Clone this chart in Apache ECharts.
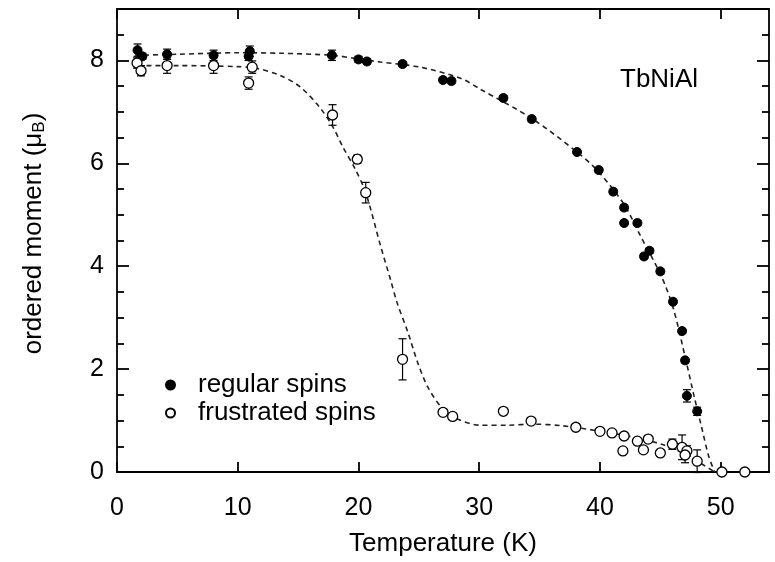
<!DOCTYPE html>
<html>
<head>
<meta charset="utf-8">
<script src="https://cdn.jsdelivr.net/npm/echarts@6/dist/echarts.min.js"></script>
<style>html,body{margin:0;padding:0;background:#fff}#c{width:775px;height:562px}</style>
</head>
<body>
<div id="c"></div>
<script>
// ---- data ----
const xTicks = [0, 10, 20, 30, 40, 50];
const yTicks = [0, 2, 4, 6, 8];
const yMinorTicks = [0.5, 1, 1.5, 2.5, 3, 3.5, 4.5, 5, 5.5, 6.5, 7, 7.5, 8.5];

const regT   = [1.7, 2.1, 4.15, 8.0, 11.0, 10.9, 17.8, 20.0, 20.7, 23.65, 27.0, 27.7, 32.0, 34.35, 38.1, 39.9, 41.1, 42.0, 42.0, 43.1, 43.65, 44.1, 45.0, 46.05, 46.8, 47.05, 47.2, 48.05];
const regM   = [8.2, 8.08, 8.12, 8.1, 8.18, 8.08, 8.1, 8.02, 7.98, 7.93, 7.62, 7.6, 7.27, 6.86, 6.22, 5.87, 5.45, 5.14, 4.84, 4.84, 4.19, 4.3, 3.9, 3.31, 2.74, 2.17, 1.48, 1.18];
const regErr = [0.12, 0.06, 0.1, 0.1, 0.1, 0.08, 0.1, 0.06, 0.05, 0.05, 0.05, 0.05, 0.05, 0.05, 0.05, 0.05, 0.05, 0.05, 0.05, 0.05, 0.05, 0.05, 0.05, 0.05, 0.05, 0.05, 0.12, 0.08];

const frT   = [1.66, 1.99, 4.15, 8.0, 11.2, 10.9, 17.85, 19.9, 20.6, 23.65, 27.0, 27.8, 32.0, 34.3, 38.0, 40.0, 41.0, 42.0, 41.9, 43.1, 44.0, 43.6, 45.0, 46.0, 46.8, 47.2, 47.05, 48.05, 50.1, 52.0];
const frM   = [7.95, 7.8, 7.9, 7.9, 7.87, 7.56, 6.94, 6.08, 5.43, 2.19, 1.16, 1.08, 1.18, 0.99, 0.87, 0.79, 0.76, 0.70, 0.41, 0.60, 0.64, 0.43, 0.37, 0.54, 0.48, 0.41, 0.33, 0.21, 0, 0];
const frErr = [0.1, 0.1, 0.15, 0.15, 0.12, 0.12, 0.2, 0.08, 0.2, 0.4, 0.06, 0.06, 0.06, 0.06, 0.06, 0.05, 0.05, 0.05, 0.05, 0.05, 0.05, 0.05, 0.05, 0.1, 0.24, 0.1, 0.15, 0.22, 0, 0];

const regFitT = [1.5, 5, 10, 13.6, 17.8, 20, 21.8, 25.1, 28.5, 30.1, 34.3, 38.1, 39.9, 42.0, 43.4, 45.1, 46.1, 47.1, 47.8, 48.4, 49.0, 49.5];
const regFitM = [8.1, 8.12, 8.15, 8.14, 8.1, 8.03, 7.97, 7.87, 7.65, 7.44, 6.88, 6.22, 5.83, 5.2, 4.57, 3.8, 3.16, 2.19, 1.47, 0.89, 0.31, 0.0];

const frFitT = [1.7, 5, 10, 11.5, 13.5, 15.2, 16.85, 17.9, 18.7, 19.7, 20.6, 21.8, 22.65, 23.2, 24.1, 24.9, 25.7, 26.8, 28.2, 30.1, 32.4, 34.5, 36.8, 40.1, 42.3, 45.1, 46.7, 48.4, 49.5];
const frFitM = [7.9, 7.9, 7.88, 7.85, 7.71, 7.48, 7.07, 6.7, 6.32, 5.9, 5.43, 4.42, 3.74, 3.29, 2.71, 2.13, 1.67, 1.28, 1.03, 0.91, 0.91, 0.93, 0.9, 0.79, 0.70, 0.54, 0.39, 0.16, 0.0];

const names = ['regular spins', 'frustrated spins'];
const annotation = 'TbNiAl';

// ---- build ----
const FONT = 'Liberation Sans, Arial, Helvetica, sans-serif';
const zip = (a, b) => a.map((v, i) => [v, b[i]]);
const zip3 = (a, b, c) => a.map((v, i) => [v, b[i], c[i]]);

function errRender(params, api) {
  const x = api.value(0), y = api.value(1), e = api.value(2);
  if (!e) return null;
  const lo = api.coord([x, y - e]);
  const hi = api.coord([x, y + e]);
  const w = 4;
  const st = { stroke: '#000', lineWidth: 1.2 };
  return {
    type: 'group',
    children: [
      { type: 'line', shape: { x1: lo[0], y1: lo[1], x2: hi[0], y2: hi[1] }, style: st },
      { type: 'line', shape: { x1: lo[0] - w, y1: lo[1], x2: lo[0] + w, y2: lo[1] }, style: st },
      { type: 'line', shape: { x1: hi[0] - w, y1: hi[1], x2: hi[0] + w, y2: hi[1] }, style: st }
    ]
  };
}

const axisLine = { show: true, onZero: false, lineStyle: { color: '#000', width: 1.8 } };
const tickStyle = { color: '#000', width: 1.8 };

function yFrame(pos, withLabels) {
  const ax = {
    type: 'value', position: pos, min: 0, max: 9, interval: 1,
    axisLine: axisLine, splitLine: { show: false },
    axisTick: { inside: true, length: 12, lineStyle: tickStyle, customValues: yTicks },
    axisLabel: { show: false }
  };
  if (withLabels) {
    ax.axisLabel = { fontSize: 25, color: '#000', margin: 13, fontFamily: FONT, customValues: yTicks };
    ax.name = 'ordered moment (μ{s|B})';
    ax.nameLocation = 'middle';
    ax.nameGap = 69;
    ax.nameTextStyle = { fontSize: 26, color: '#000', fontFamily: FONT, padding: [0, 0, 0, 14],
      rich: { s: { fontSize: 17, verticalAlign: 'bottom', padding: [12, 0, 0, 0], fontFamily: FONT } } };
  }
  return ax;
}
function yMinor(pos) {
  return {
    type: 'value', position: pos, min: 0, max: 9, interval: 1,
    axisLine: { show: false, onZero: false }, splitLine: { show: false },
    axisTick: { show: true, inside: true, length: 7, lineStyle: tickStyle, customValues: yMinorTicks },
    axisLabel: { show: false }
  };
}
function xFrame(pos, withLabels) {
  const ax = {
    type: 'value', position: pos, min: 0, max: 54, interval: 10,
    axisLine: axisLine, splitLine: { show: false },
    axisTick: { inside: true, length: 10, lineStyle: tickStyle, customValues: xTicks },
    axisLabel: { show: false }
  };
  if (withLabels) {
    ax.axisLabel = { fontSize: 25, color: '#000', margin: 24, fontFamily: FONT, customValues: xTicks };
    ax.name = 'Temperature (K)';
    ax.nameLocation = 'middle';
    ax.nameGap = 59;
    ax.nameTextStyle = { fontSize: 26, color: '#000', fontFamily: FONT };
  }
  return ax;
}

const option = {
  animation: false,
  backgroundColor: '#fff',
  textStyle: { fontFamily: FONT, color: '#000' },
  grid: { left: 117, right: 6, top: 9, bottom: 89, containLabel: false },
  xAxis: [xFrame('bottom', true), xFrame('top', false)],
  yAxis: [yFrame('left', true), yFrame('right', false), yMinor('left'), yMinor('right')],
  legend: {
    data: names,
    orient: 'vertical',
    left: 165, top: 372,
    padding: 0,
    itemWidth: 9, itemHeight: 9, itemGap: 2,
    textStyle: { fontSize: 26, color: '#000', fontFamily: FONT, padding: [0, 0, 0, 18] },
    selectedMode: false
  },
  graphic: [
    { type: 'text', left: 620, top: 67, style: { text: annotation, fontSize: 26, fill: '#000', fontFamily: FONT } }
  ],
  series: [
    { type: 'line', data: zip(regFitT, regFitM), smooth: 0.3, symbol: 'none', z: 1,
      lineStyle: { color: '#222', width: 1.6, type: [5, 4] } },
    { type: 'line', data: zip(frFitT, frFitM), smooth: 0.3, symbol: 'none', z: 1,
      lineStyle: { color: '#222', width: 1.6, type: [5, 4] } },
    { type: 'custom', renderItem: errRender, data: zip3(regT, regM, regErr), z: 2 },
    { type: 'custom', renderItem: errRender, data: zip3(frT, frM, frErr), z: 2 },
    { name: names[0], type: 'scatter', data: zip(regT, regM), symbol: 'circle', symbolSize: 9, z: 3,
      clip: false,
      itemStyle: { color: '#000', borderColor: '#000', borderWidth: 1, opacity: 1 } },
    { name: names[1], type: 'scatter', data: zip(frT, frM), symbol: 'circle', symbolSize: 10, z: 4,
      clip: false,
      itemStyle: { color: '#fff', borderColor: '#000', borderWidth: 1.3, opacity: 1 } }
  ]
};

const chart = echarts.init(document.getElementById('c'), null, { renderer: 'canvas' });
chart.setOption(option);
</script>
</body>
</html>
